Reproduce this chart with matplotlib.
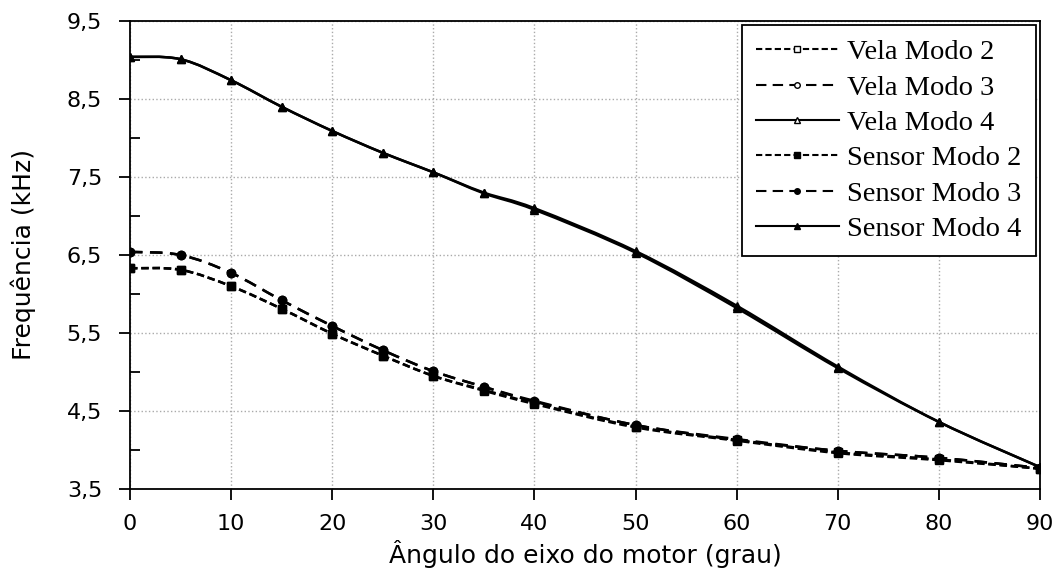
import matplotlib.pyplot as plt
import numpy as np
from matplotlib.path import Path
from matplotlib.patches import PathPatch
from matplotlib.ticker import MultipleLocator, FuncFormatter

angles = [0, 5, 10, 15, 20, 25, 30, 35, 40, 50, 60, 70, 80, 90]

vela_2 = [6.33, 6.31, 6.10, 5.81, 5.49, 5.21, 4.95, 4.77, 4.60, 4.30, 4.13, 3.97, 3.88, 3.76]
vela_3 = [6.54, 6.50, 6.27, 5.92, 5.59, 5.28, 5.01, 4.81, 4.63, 4.32, 4.14, 3.99, 3.90, 3.77]
vela_4 = [9.04, 9.01, 8.74, 8.40, 8.09, 7.81, 7.56, 7.30, 7.10, 6.55, 5.85, 5.07, 4.36, 3.78]
sensor_2 = [6.33, 6.31, 6.10, 5.81, 5.49, 5.21, 4.95, 4.76, 4.59, 4.29, 4.12, 3.96, 3.87, 3.76]
sensor_3 = [6.54, 6.50, 6.27, 5.92, 5.59, 5.28, 5.01, 4.81, 4.62, 4.32, 4.13, 3.99, 3.90, 3.77]
sensor_4 = [9.04, 9.01, 8.74, 8.40, 8.09, 7.81, 7.56, 7.29, 7.08, 6.53, 5.82, 5.05, 4.36, 3.78]

series = [
    ('Vela Modo 2', vela_2, 's', 'none', (0, (3, 1.5))),
    ('Vela Modo 3', vela_3, 'o', 'none', (0, (5, 3))),
    ('Vela Modo 4', vela_4, '^', 'none', '-'),
    ('Sensor Modo 2', sensor_2, 's', 'black', (0, (3, 1.5))),
    ('Sensor Modo 3', sensor_3, 'o', 'black', (0, (5, 3))),
    ('Sensor Modo 4', sensor_4, '^', 'black', '-'),
]


def smooth_path(x, y, t=1 / 6):
    # Excel-like smoothed line: cubic bezier through every point
    x = np.asarray(x, float)
    y = np.asarray(y, float)
    n = len(x)
    verts = [(x[0], y[0])]
    codes = [Path.MOVETO]
    for i in range(n - 1):
        x0, y0 = (x[i - 1], y[i - 1]) if i > 0 else (x[i], y[i])
        x3, y3 = (x[i + 2], y[i + 2]) if i + 2 < n else (x[i + 1], y[i + 1])
        c1 = (x[i] + t * (x[i + 1] - x0), y[i] + t * (y[i + 1] - y0))
        c2 = (x[i + 1] - t * (x3 - x[i]), y[i + 1] - t * (y3 - y[i]))
        verts += [c1, c2, (x[i + 1], y[i + 1])]
        codes += [Path.CURVE4] * 3
    return Path(verts, codes)


fig = plt.figure(figsize=(10.55, 5.73), dpi=100)
ax = fig.add_axes([0.1232, 0.1466, 0.8626, 0.8168])

for label, vals, marker, face, ls in series:
    ax.add_patch(PathPatch(smooth_path(angles, vals), facecolor='none',
                           edgecolor='black', lw=1.8, linestyle=ls, zorder=3))
    ax.plot(angles, vals, linestyle='none', marker=marker, markersize=6,
            markerfacecolor=face, markeredgecolor='black', zorder=4)
    # legend proxy
    ax.plot([], [], color='black', lw=1.5, linestyle=ls, marker=marker,
            markersize=4, markerfacecolor=face if face != 'none' else 'white',
            markeredgecolor='black', label=label)

ax.set_xlim(0, 90)
ax.set_ylim(3.5, 9.5)
ax.xaxis.set_major_locator(MultipleLocator(10))
ax.yaxis.set_minor_locator(MultipleLocator(0.5))
ax.set_yticks(np.arange(3.5, 9.6, 1.0))
ax.yaxis.set_major_formatter(FuncFormatter(lambda v, p: f'{v:.1f}'.replace('.', ',')))

ax.grid(True, which='major', color='#aaaaaa', linestyle=':', lw=1)
ax.tick_params(axis='y', which='major', direction='out', length=8, width=1.3,
               labelsize=16, pad=12)
ax.tick_params(axis='y', which='minor', direction='in', length=7, width=1.3)
ax.tick_params(axis='x', which='major', direction='out', length=8, width=1.3,
               labelsize=16, pad=10)
for s in ax.spines.values():
    s.set_linewidth(1.3)

ax.set_xlabel('Ângulo do eixo do motor (grau)', fontsize=18, labelpad=4)
ax.set_ylabel('Frequência (kHz)', fontsize=18, labelpad=22)

leg = ax.legend(loc='upper right', prop={'family': 'Liberation Serif', 'size': 20.5},
                frameon=True, fancybox=False, edgecolor='black', framealpha=1,
                handlelength=2.9, handletextpad=0.3, borderpad=0.5,
                borderaxespad=0.15, labelspacing=0.33)
leg.get_frame().set_linewidth(1.3)

fig.savefig('out.png', dpi=100)
